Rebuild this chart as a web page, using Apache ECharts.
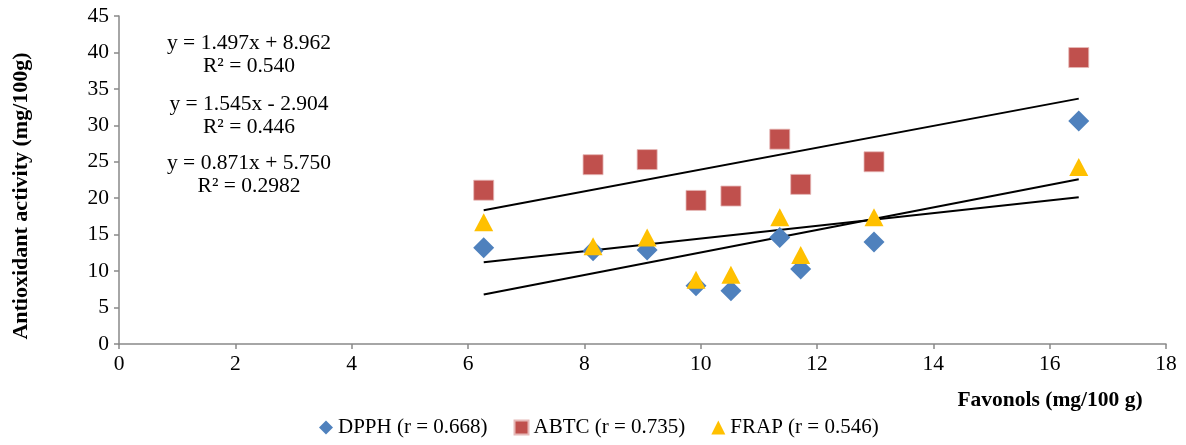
<!DOCTYPE html>
<html>
<head>
<meta charset="utf-8">
<script src="https://cdn.jsdelivr.net/npm/echarts@6/dist/echarts.min.js"></script>
<style>html,body{margin:0;padding:0;background:#fff}#c{width:1186px;height:445px}</style>
</head>
<body>
<div id="c"></div>
<script>
var flavonols = [6.27, 8.15, 9.08, 9.92, 10.52, 11.36, 11.72, 12.98, 16.50];
var dpph = [13.2, 12.8, 12.9, 8.0, 7.3, 14.6, 10.3, 14.0, 30.6];
var abtc = [21.1, 24.6, 25.3, 19.7, 20.3, 28.1, 21.9, 25.0, 39.3];
var frap = [16.7, 13.4, 14.6, 8.8, 9.5, 17.4, 12.2, 17.4, 24.3];
var seriesNames = ['DPPH (r = 0.668)', 'ABTC (r = 0.735)', 'FRAP (r = 0.546)'];
// trend line coefficients [slope, intercept] read from the equations
var trendDPPH = [1.545, -2.904];
var trendABTC = [1.497, 8.962];
var trendFRAP = [0.871, 5.750];
var equations = ['y = 1.497x + 8.962', 'R² = 0.540', 'y = 1.545x - 2.904', 'R² = 0.446', 'y = 0.871x + 5.750', 'R² = 0.2982'];
var xTitle = 'Favonols (mg/100 g)';
var yTitle = 'Antioxidant activity (mg/100g)';

var FONT = 'Liberation Serif';
var FS = 21.5;
function pts(xs, ys){ return xs.map(function(x,i){ return [x, ys[i]]; }); }
function trend(c){
  var x0 = Math.min.apply(null, flavonols), x1 = Math.max.apply(null, flavonols);
  return [[x0, c[0]*x0 + c[1]], [x1, c[0]*x1 + c[1]]];
}
var chart = echarts.init(document.getElementById('c'));
var axisCol = '#898989';
var eqY = [43, 66, 104, 127, 163, 186];
chart.setOption({
  animation: false,
  grid: {left: 119, right: 20, top: 16, bottom: 101, containLabel: false, outerBoundsMode: 'none'},
  xAxis: {
    type: 'value', min: 0, max: 18, interval: 2,
    axisLine: {show: true, lineStyle: {color: axisCol, width: 1.5}},
    axisTick: {show: true, length: 5, lineStyle: {color: axisCol, width: 1.5}},
    axisLabel: {color: '#000', fontFamily: FONT, fontSize: FS, margin: 9},
    splitLine: {show: false}
  },
  yAxis: {
    type: 'value', min: 0, max: 45, interval: 5,
    axisLine: {show: true, lineStyle: {color: axisCol, width: 1.5}},
    axisTick: {show: true, length: 5, lineStyle: {color: axisCol, width: 1.5}},
    axisLabel: {color: '#000', fontFamily: FONT, fontSize: FS, margin: 10},
    splitLine: {show: false}
  },
  legend: {
    bottom: 2, left: 314, data: [
      {name: seriesNames[0], icon: 'diamond'},
      {name: seriesNames[1], icon: 'rect'},
      {name: seriesNames[2], icon: 'triangle'}
    ],
    itemWidth: 14, itemHeight: 14, itemGap: 26,
    textStyle: {color: '#000', fontFamily: FONT, fontSize: 21}
  },
  graphic: equations.map(function(t, i){
    return {type: 'text', x: 249, y: eqY[i], style: {text: t, font: FS + 'px "Liberation Serif"', fill: '#000', align: 'center', verticalAlign: 'middle'}};
  }).concat([
    {type: 'text', x: 1050, y: 400, style: {text: xTitle, font: 'bold ' + FS + 'px "Liberation Serif"', fill: '#000', align: 'center', verticalAlign: 'middle'}},
    {type: 'text', x: 21, y: 196, rotation: Math.PI / 2, style: {text: yTitle, font: 'bold 22px "Liberation Serif"', fill: '#000', align: 'center', verticalAlign: 'middle'}}
  ]),
  series: [
    {name: 'lineABTC', type: 'line', data: trend(trendABTC), symbol: 'none', lineStyle: {color: '#000', width: 2}, z: 1, silent: true},
    {name: 'lineDPPH', type: 'line', data: trend(trendDPPH), symbol: 'none', lineStyle: {color: '#000', width: 2}, z: 1, silent: true},
    {name: 'lineFRAP', type: 'line', data: trend(trendFRAP), symbol: 'none', lineStyle: {color: '#000', width: 2}, z: 1, silent: true},
    {name: seriesNames[0], type: 'scatter', data: pts(flavonols, dpph), symbol: 'diamond', symbolSize: 21, itemStyle: {color: '#4F81BD', opacity: 1}, z: 2},
    {name: seriesNames[1], type: 'scatter', data: pts(flavonols, abtc), symbol: 'rect', symbolSize: 20, itemStyle: {color: '#C0504D', opacity: 1, borderColor: '#E6B9B8', borderWidth: 0.8}, z: 2},
    {name: seriesNames[2], type: 'scatter', data: pts(flavonols, frap), symbol: 'triangle', symbolSize: [19, 18], itemStyle: {color: '#FFC000', opacity: 1}, z: 3}
  ]
});
</script>
</body>
</html>
